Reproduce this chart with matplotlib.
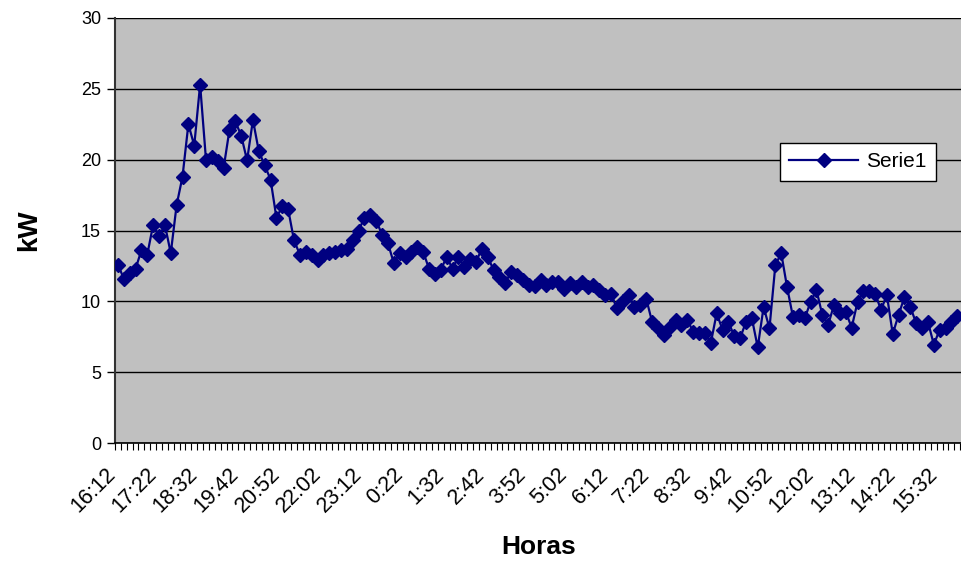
import matplotlib
matplotlib.use("Agg")
import matplotlib.pyplot as plt
from matplotlib.ticker import FixedLocator, NullFormatter
from matplotlib.transforms import ScaledTranslation

plt.rcParams['font.family'] = ['Liberation Sans', 'DejaVu Sans']

# 10-minute readings starting at 16:12
start_min = 16 * 60 + 12
times = [f"{((start_min + 10 * i) // 60) % 24}:{(start_min + 10 * i) % 60:02d}" for i in range(144)]

kw = [
    12.6, 11.6, 12.0, 12.3, 13.6, 13.3, 15.4, 14.6, 15.4, 13.4,
    16.8, 18.8, 22.5, 21.0, 25.3, 20.0, 20.2, 19.9, 19.4, 22.1,
    22.7, 21.7, 19.95, 22.8, 20.6, 19.6, 18.6, 15.9, 16.7, 16.5,
    14.3, 13.3, 13.5, 13.3, 12.9, 13.3, 13.4, 13.5, 13.6, 13.7,
    14.3, 15.0, 15.9, 16.1, 15.7, 14.7, 14.1, 12.7, 13.4, 13.15,
    13.5, 13.85, 13.5, 12.3, 11.9, 12.2, 13.15, 12.3, 13.15, 12.45,
    13.0, 12.8, 13.7, 13.15, 12.2, 11.75, 11.3, 12.1, 11.85, 11.5,
    11.15, 11.1, 11.5, 11.15, 11.4, 11.4, 10.9, 11.3, 11.0, 11.4,
    11.0, 11.15, 10.8, 10.45, 10.55, 9.5, 10.0, 10.45, 9.6, 9.75,
    10.2, 8.55, 8.1, 7.6, 8.2, 8.65, 8.3, 8.7, 7.85, 7.75,
    7.75, 7.05, 9.15, 8.0, 8.55, 7.55, 7.4, 8.55, 8.8, 6.75,
    9.6, 8.1, 12.55, 13.4, 11.0, 8.9, 9.05, 8.8, 9.95, 10.8,
    9.05, 8.35, 9.75, 9.15, 9.25, 8.15, 9.95, 10.7, 10.7, 10.55,
    9.4, 10.45, 7.7, 9.05, 10.3, 9.6, 8.45, 8.1, 8.55, 6.95,
    8.0, 8.1, 8.55, 9.0,
]

label_step = 7
tick_labels = times[::label_step]

fig = plt.figure(figsize=(9.62, 5.63), dpi=100)
ax = fig.add_axes([115 / 962, 1 - 443 / 563, 847 / 962, 425 / 563])
ax.set_facecolor('#C0C0C0')

x = list(range(len(kw)))
ax.plot(x, kw, color='#000080', linewidth=1.6, marker='D', markersize=7.5,
        markerfacecolor='#000080', markeredgecolor='#000080', label='Serie1', zorder=3)

ax.set_ylim(0, 30)
ax.set_yticks([0, 5, 10, 15, 20, 25, 30])
ax.yaxis.grid(True, color='black', linewidth=1.0)
ax.set_axisbelow(True)

n = len(kw)
ax.set_xlim(-0.5, n - 0.5 + 0.3)
ax.set_xticks(x[::label_step])
ax.set_xticklabels(tick_labels, rotation=45, ha='right', va='top', rotation_mode='anchor')
ax.xaxis.set_minor_locator(FixedLocator([i - 0.5 for i in range(n + 1)]))
ax.xaxis.set_minor_formatter(NullFormatter())
ax.tick_params(axis='x', which='major', length=0, pad=15, labelsize=15.5)
ax.tick_params(axis='x', which='minor', length=5, width=0.8, direction='out', color='black')
ax.tick_params(axis='y', which='major', length=6, width=1, direction='out', labelsize=13, pad=4)
shift = ScaledTranslation(-13 / 100, 0, fig.dpi_scale_trans)
for lab in ax.get_xticklabels():
    lab.set_transform(lab.get_transform() + shift)

for s in ['top', 'right']:
    ax.spines[s].set_visible(False)
ax.spines['left'].set_color('#333333')
ax.spines['left'].set_linewidth(1.5)
ax.spines['bottom'].set_color('black')
ax.spines['bottom'].set_linewidth(1.2)

ax.set_ylabel('kW', fontsize=20, fontweight='bold', labelpad=28)
ax.set_xlabel('Horas', fontsize=19, fontweight='bold', labelpad=13)

leg = ax.legend(loc='upper left', bbox_to_anchor=(0.785, 0.706), borderaxespad=0,
                frameon=True, fancybox=False, edgecolor='black', facecolor='white',
                framealpha=1, fontsize=15, handlelength=3.3, handletextpad=0.4,
                borderpad=0.45)
leg.get_frame().set_linewidth(1.0)

fig.savefig('out.png', dpi=100)
